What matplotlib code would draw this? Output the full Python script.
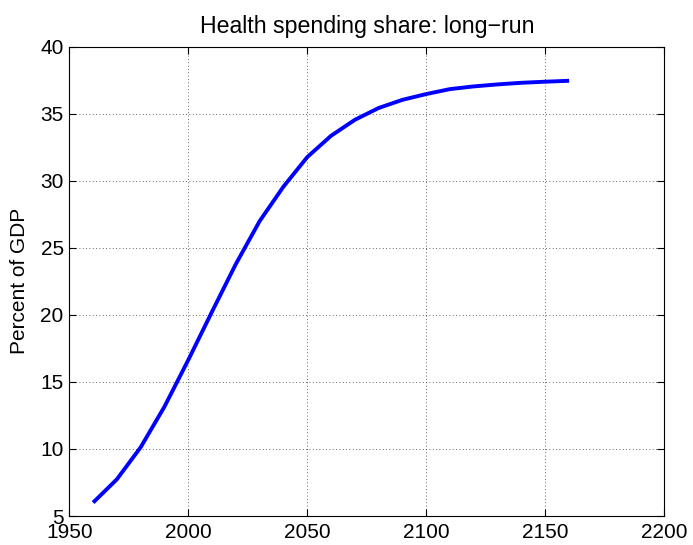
import numpy as np
import matplotlib
matplotlib.use("Agg")
import matplotlib.pyplot as plt

plt.rcParams['font.family'] = ['Liberation Sans', 'DejaVu Sans']

# data
years = [1960, 1970, 1980, 1990, 2000, 2010, 2020, 2030, 2040, 2050, 2060,
         2070, 2080, 2090, 2100, 2110, 2120, 2130, 2140, 2150, 2160]
share = [6.0, 7.74, 10.13, 13.16, 16.64, 20.25, 23.8, 27.0, 29.57, 31.77, 33.36,
         34.55, 35.43, 36.04, 36.47, 36.84, 37.04, 37.19, 37.31, 37.39, 37.46]
xticks = [1950, 2000, 2050, 2100, 2150, 2200]
yticks = [5, 10, 15, 20, 25, 30, 35, 40]

fig = plt.figure(figsize=(6.93, 5.45), dpi=100)
ax = fig.add_axes([0.1, 0.0532, 0.8586, 0.8611])

ax.plot(years, share, color='#0000ff', lw=2.8, solid_capstyle='butt')

ax.set_xlim(1950, 2200)
ax.set_ylim(5, 40)
ax.set_xticks(xticks)
ax.set_yticks(yticks)
ax.tick_params(direction='in', top=True, right=True, labelsize=15, length=5, width=0.8)
ax.tick_params(axis='x', pad=5)
ax.tick_params(axis='y', pad=4)
ax.grid(True, linestyle=(0, (1, 3)), color='#333333', linewidth=0.6)
for s in ax.spines.values():
    s.set_linewidth(0.8)

ax.set_ylabel('Percent of GDP', fontsize=15, labelpad=8)
ax.set_title('Health spending share: long\u2212run', fontsize=16.7, pad=10)

fig.savefig('out.png', dpi=100)
